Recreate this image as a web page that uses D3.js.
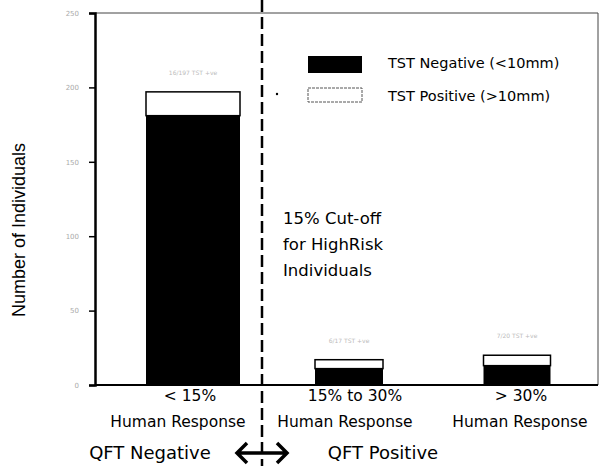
<!DOCTYPE html>
<html>
<head>
<meta charset="utf-8">
<script src="https://cdn.jsdelivr.net/npm/d3@7"></script>
<style>
  body { margin: 0; background: #fff; }
  text { font-family: "DejaVu Sans", sans-serif; }
</style>
</head>
<body>
<script>
// data
var categories = ["< 15%", "15% to 30%", "> 30%"];
var tstNegative = [181, 11, 13];
var tstPositive = [16, 6, 7];
var barNotes = ["16/197 TST +ve", "6/17 TST +ve", "7/20 TST +ve"];
var yTicks = [0, 50, 100, 150, 200, 250];

function main() {
    var svg = d3.select("body")
      .append("svg")
      .attr("width", 616)
      .attr("height", 466);

    var y = d3.scaleLinear().domain([0, 250]).range([385, 13]);
    var x = d3.scaleOrdinal().domain(categories).range([193, 349, 517]);
    var w = d3.scaleOrdinal().domain(categories).range([94, 68, 67]);

    var data = categories.map(function (c, i) {
        return { cat: c, neg: tstNegative[i], pos: tstPositive[i], note: barNotes[i] };
    });

    // frame
    svg.append("line").attr("x1", 95).attr("x2", 598).attr("y1", 13).attr("y2", 13)
      .attr("stroke", "#444").attr("stroke-width", 1);
    svg.append("line").attr("x1", 598).attr("x2", 598).attr("y1", 13).attr("y2", 385)
      .attr("stroke", "#444").attr("stroke-width", 1);

    // y axis
    var yAxis = svg.append("g")
      .attr("transform", "translate(95,0)")
      .call(d3.axisLeft(y).tickValues(yTicks).tickSize(6).tickPadding(10));
    yAxis.select(".domain").attr("stroke", "#000").attr("stroke-width", 2.5);
    yAxis.selectAll(".tick line").attr("stroke", "#000").attr("stroke-width", 1.5);
    yAxis.selectAll(".tick text").attr("fill", "#aaa").style("font-size", "7px");

    // baseline
    svg.append("line").attr("x1", 95).attr("x2", 598).attr("y1", y(0)).attr("y2", y(0))
      .attr("stroke", "#000").attr("stroke-width", 2);

    var bars = svg.selectAll("g.bar")
      .data(data)
      .enter()
      .append("g")
      .attr("class", "bar");

    bars.append("rect")
      .attr("x", function (d) { return x(d.cat) - w(d.cat) / 2; })
      .attr("width", function (d) { return w(d.cat); })
      .attr("y", function (d) { return y(d.neg + d.pos); })
      .attr("height", function (d) { return y(d.neg) - y(d.neg + d.pos); })
      .attr("fill", "#fff")
      .attr("stroke", "#000")
      .attr("stroke-width", 1.5);

    bars.append("rect")
      .attr("x", function (d) { return x(d.cat) - w(d.cat) / 2; })
      .attr("width", function (d) { return w(d.cat); })
      .attr("y", function (d) { return y(d.neg); })
      .attr("height", function (d) { return y(0) - y(d.neg); })
      .attr("fill", "#000");

    bars.append("text")
      .attr("x", function (d) { return x(d.cat); })
      .attr("y", function (d) { return y(d.neg + d.pos) - 17; })
      .attr("text-anchor", "middle")
      .attr("fill", "#bbb")
      .style("font-size", "6px")
      .text(function (d) { return d.note; });

    // category labels
    svg.selectAll("text.cat")
      .data(categories)
      .enter()
      .append("text")
      .attr("x", function (d, i) { return [190, 355, 521][i]; })
      .attr("y", 401)
      .attr("text-anchor", "middle")
      .style("font-size", "15.5px")
      .text(function (d) { return d; });
    svg.selectAll("text.hr")
      .data(categories)
      .enter()
      .append("text")
      .attr("x", function (d, i) { return [178, 345, 520][i]; })
      .attr("y", 427)
      .attr("text-anchor", "middle")
      .style("font-size", "15.5px")
      .text("Human Response");

    // QFT group labels
    svg.append("text").attr("x", 150).attr("y", 459).attr("text-anchor", "middle")
      .style("font-size", "18px").text("QFT Negative");
    svg.append("text").attr("x", 383).attr("y", 459).attr("text-anchor", "middle")
      .style("font-size", "18px").text("QFT Positive");

    // dashed cut-off line
    svg.append("line").attr("x1", 262).attr("x2", 262).attr("y1", 0).attr("y2", 466)
      .attr("stroke", "#000").attr("stroke-width", 2.5).attr("stroke-dasharray", "12,5");

    // double arrow
    svg.append("path")
      .attr("d", "M238,453 L286,453 M247,443 L237,453 L247,463 M277,443 L287,453 L277,463")
      .attr("fill", "none").attr("stroke", "#000").attr("stroke-width", 3.5)
      .attr("stroke-linejoin", "miter");

    // cut-off annotation
    var note = ["15% Cut-off", "for HighRisk", "Individuals"];
    svg.selectAll("text.note")
      .data(note)
      .enter()
      .append("text")
      .attr("x", 283)
      .attr("y", function (d, i) { return 224 + i * 26; })
      .style("font-size", "16.5px")
      .text(function (d) { return d; });

    // legend
    svg.append("rect").attr("x", 308).attr("y", 56).attr("width", 54).attr("height", 17).attr("fill", "#000");
    svg.append("rect").attr("x", 308).attr("y", 88).attr("width", 54).attr("height", 14)
      .attr("fill", "#fff").attr("stroke", "#555").attr("stroke-width", 1).attr("stroke-dasharray", "3,1");
    svg.append("text").attr("x", 388).attr("y", 68).style("font-size", "14.5px").text("TST Negative (<10mm)");
    svg.append("text").attr("x", 388).attr("y", 101).style("font-size", "14.5px").text("TST Positive (>10mm)");
    svg.append("circle").attr("cx", 277).attr("cy", 94).attr("r", 1.2).attr("fill", "#000");

    // y title
    svg.append("text")
      .attr("transform", "translate(25,230) rotate(-90)")
      .attr("text-anchor", "middle")
      .style("font-family", "'Liberation Sans', Arial, sans-serif")
      .style("font-size", "18px")
      .text("Number of Individuals");
}
main();
</script>
</body>
</html>
